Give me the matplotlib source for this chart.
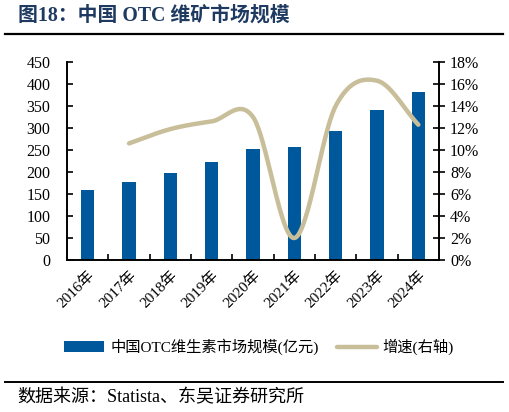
import numpy as np
import matplotlib
matplotlib.use("Agg")
import matplotlib.pyplot as plt
from matplotlib.lines import Line2D
from matplotlib.ticker import FuncFormatter, MultipleLocator

plt.rcParams['font.family'] = ['Liberation Serif', 'Noto Sans CJK SC']

# ---- data ----
years = ["2016年", "2017年", "2018年", "2019年", "2020年", "2021年", "2022年", "2023年", "2024年"]
market_size = [160, 177, 198, 223, 252, 257, 293, 340, 382]  # 亿元
growth_years_idx = [1, 2, 3, 4, 5, 6, 7, 8]
growth = [10.6, 11.9, 12.6, 13.0, 2.0, 14.0, 16.3, 12.3]  # %

bar_label = "中国OTC维生素市场规模(亿元)"
line_label = "增速(右轴)"
title = "图18：中国 OTC 维矿市场规模"
source = "数据来源：Statista、东吴证券研究所"

BLUE = "#00589C"
TAN = "#C8BF9A"
TITLE_C = "#1F3A60"


def catmull_rom(x, y, n=40):
    x = np.asarray(x, float)
    y = np.asarray(y, float)
    xs, ys = [], []
    m = len(x)
    for i in range(m - 1):
        p0 = y[i - 1] if i > 0 else y[i]
        p1, p2 = y[i], y[i + 1]
        p3 = y[i + 2] if i + 2 < m else y[i + 1]
        m1 = (p2 - p0) / 2 if i > 0 else (p2 - p1)
        m2 = (p3 - p1) / 2 if i + 2 < m else (p2 - p1)
        t = np.linspace(0, 1, n)
        h00 = 2 * t**3 - 3 * t**2 + 1
        h10 = t**3 - 2 * t**2 + t
        h01 = -2 * t**3 + 3 * t**2
        h11 = t**3 - t**2
        xs.append(x[i] + t * (x[i + 1] - x[i]))
        ys.append(h00 * p1 + h10 * m1 + h01 * p2 + h11 * m2)
    return np.concatenate(xs), np.concatenate(ys)


fig = plt.figure(figsize=(5.1, 4.12), dpi=100)
ax = fig.add_axes([67 / 510, 1 - 260 / 412, (439 - 67) / 510, (260 - 62) / 412])
ax2 = ax.twinx()

x = np.arange(len(years))
bars = ax.bar(x, market_size, width=0.32, color=BLUE, zorder=2, label=bar_label)
ax.set_xlim(-0.5, len(years) - 0.5)
ax.set_ylim(0, 450)
ax.yaxis.set_major_locator(MultipleLocator(50))

sx, sy = catmull_rom(growth_years_idx, growth)
ln, = ax2.plot(sx, sy, color=TAN, lw=3.2, solid_capstyle='round', zorder=3, label=line_label)
ax2.set_ylim(0, 18)
ax2.yaxis.set_major_locator(MultipleLocator(2))
ax2.yaxis.set_major_formatter(FuncFormatter(lambda v, p: f"{v:.0f}%"))

for a in (ax, ax2):
    a.spines['top'].set_visible(False)
    for s in a.spines.values():
        s.set_linewidth(1.2)
        s.set_color('black')

ax.set_xticks(x)
ax.set_xticklabels(years, rotation=45, ha='right', va='top', rotation_mode='anchor', fontsize=11)
ax.tick_params(axis='x', which='major', length=0, pad=6)
ax.set_xticks(np.arange(0.5, len(years) - 0.5, 1), minor=True)
ax.tick_params(axis='x', which='minor', direction='in', length=4, width=1.2)
ax.tick_params(axis='y', direction='in', length=4, width=1.2, labelsize=11.5, pad=12)
ax2.tick_params(axis='y', direction='inout', length=8, width=1.2, labelsize=11.5, pad=4)

fig.legend(handles=[bars, ln], labels=[bar_label, line_label], loc='center',
           bbox_to_anchor=(0.508, 1 - 347 / 412), ncol=2, frameon=False,
           fontsize=11, handlelength=2.6, columnspacing=1.2, handletextpad=0.4)

fig.text(18 / 510, 1 - 16 / 412, title, fontsize=14.3, fontweight='bold',
         color=TITLE_C, va='center', ha='left')
fig.add_artist(Line2D([5 / 510, 503 / 510], [1 - 33.5 / 412] * 2, color='black', lw=1.6))
fig.add_artist(Line2D([5 / 510, 503 / 510], [1 - 381.5 / 412] * 2, color='black', lw=1.4))
fig.text(17 / 510, 1 - 398 / 412, source, fontsize=13, va='center', ha='left')

fig.savefig("out.png", dpi=100)
